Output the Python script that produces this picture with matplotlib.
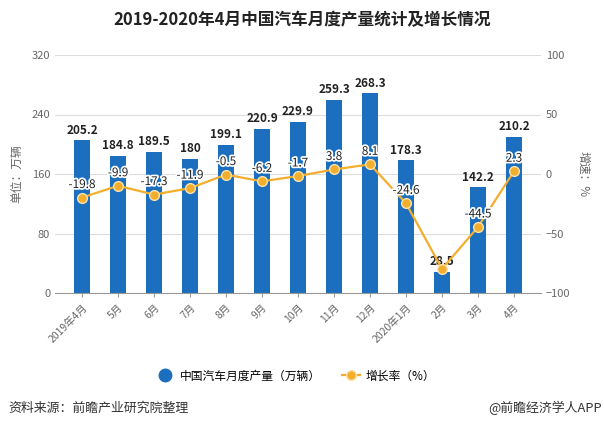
import matplotlib.pyplot as plt
import matplotlib.patheffects as pe
from matplotlib.lines import Line2D

plt.rcParams['font.family'] = ['Noto Sans CJK SC', 'DejaVu Sans']

# 月份与数据
months = ['2019年4月', '5月', '6月', '7月', '8月', '9月', '10月', '11月', '12月',
          '2020年1月', '2月', '3月', '4月']
output = [205.2, 184.8, 189.5, 180, 199.1, 220.9, 229.9, 259.3, 268.3,
          178.3, 28.5, 142.2, 210.2]
growth = [-19.8, -9.9, -17.3, -11.9, -0.5, -6.2, -1.7, 3.8, 8.1,
          -24.6, -79.8, -44.5, 2.3]
left_ticks = [0, 80, 160, 240, 320]
right_ticks = [-100, -50, 0, 50, 100]

blue = '#1C6FBF'
orange = '#F3AE2E'
grey = '#666666'

fig = plt.figure(figsize=(6.04, 4.30), dpi=100)
ax = fig.add_axes([55/604, 1-293/430, 486/604, 238/430])
ax2 = ax.twinx()

x = list(range(len(months)))
ax.bar(x, output, width=0.47, color=blue, zorder=2, label='中国汽车月度产量（万辆）')
for xi, v in zip(x, output):
    ax.text(xi, v + 5, f'{v:g}', ha='center', va='bottom', fontsize=8.5,
            fontweight='bold', color='#222222', zorder=5)

ax.set_ylim(0, 320)
ax.set_yticks(left_ticks)
ax.set_xlim(-0.75, 12.75)
ax.set_xticks(x)
ax.set_xticklabels(months, rotation=45, ha='right', rotation_mode='anchor', fontsize=7.5, color=grey)
ax.tick_params(axis='y', length=0, labelsize=8, colors=grey)
ax.tick_params(axis='x', length=3, color='#999999')
ax.grid(axis='y', color='#DDDDDD', linewidth=0.8, zorder=0)
for s in ['top', 'right', 'left']:
    ax.spines[s].set_visible(False)
ax.spines['bottom'].set_color('#999999')
ax.set_ylabel('单位：万辆', fontsize=8.5, color=grey, labelpad=6)

ax2.plot(x, growth, color=orange, linewidth=1.6, marker='o', markersize=7,
         markerfacecolor=orange, markeredgecolor='#FCE2A8', markeredgewidth=1,
         zorder=3, label='增长率（%）')
for i, (xi, v) in enumerate(zip(x, growth)):
    if i == 10:
        continue
    t = ax2.text(xi, v + 5.5, f'{v:g}', ha='center', va='bottom', fontsize=8.5,
                 color='#222222', zorder=6)
    t.set_path_effects([pe.withStroke(linewidth=2.5, foreground='white')])
ax2.set_ylim(-100, 100)
ax2.set_yticks(right_ticks)
ax2.tick_params(axis='y', length=0, labelsize=8, colors=grey)
for s in ['top', 'right', 'left', 'bottom']:
    ax2.spines[s].set_visible(False)
ax2.set_ylabel('增速：%', fontsize=8.5, color=grey, rotation=270, labelpad=14)

fig.suptitle('2019-2020年4月中国汽车月度产量统计及增长情况', x=0.5, y=0.975,
             fontsize=12, fontweight='bold', color='#222222')

h1, l1 = ax.get_legend_handles_labels()
h2, l2 = ax2.get_legend_handles_labels()
h1 = [Line2D([], [], linestyle='none', marker='o', markersize=9, color=blue)]
ax.legend(h1 + h2, l1 + l2, loc='center', bbox_to_anchor=(0.49, 1-376/430),
          bbox_transform=fig.transFigure, ncol=2, frameon=False, fontsize=8.5,
          columnspacing=1.8, handlelength=1.5, handletextpad=0.5)

fig.text(8/604, 1-408/430, '资料来源：前瞻产业研究院整理', fontsize=9.3, color='#333333', va='center')
fig.text(602/604, 1-408/430, '@前瞻经济学人APP', fontsize=9.3, color='#333333', va='center', ha='right')

fig.savefig('out.png', dpi=100)
